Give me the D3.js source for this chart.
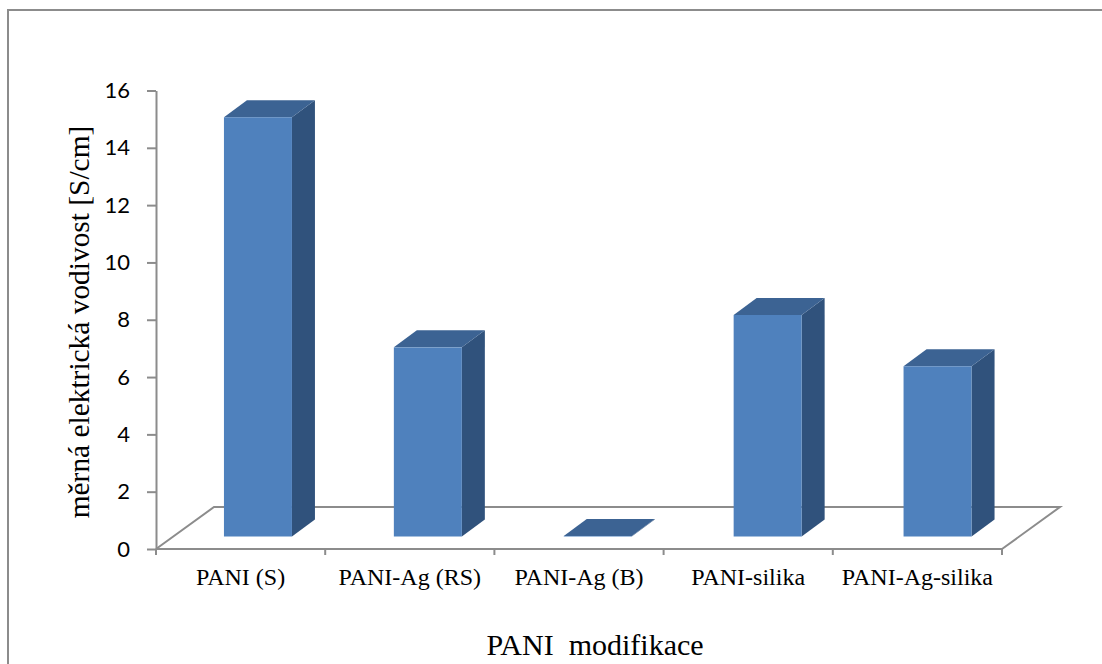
<!DOCTYPE html>
<html>
<head>
<meta charset="utf-8">
<script src="https://cdn.jsdelivr.net/npm/d3@7"></script>
<style>
  html, body { margin: 0; padding: 0; background: #fff; overflow: hidden; }
  svg { display: block; }
</style>
</head>
<body>
<svg id="chart" width="1102" height="664"></svg>
<script>
// Conductivity of PANI modifications, in S/cm
const categories = ["PANI (S)", "PANI-Ag (RS)", "PANI-Ag (B)", "PANI-silika", "PANI-Ag-silika"];
const conductivity = [14.63, 6.6, 0.02, 7.73, 5.94];
const yTicks = [0, 2, 4, 6, 8, 10, 12, 14, 16];

const svg = d3.select("#chart");
const grey = "#8c8c8c";

// Outer chart frame; its right and bottom edges run past the canvas
svg.append("rect")
  .attr("x", 8).attr("y", 10)
  .attr("width", 1110).attr("height", 670)
  .attr("fill", "#fff").attr("stroke", grey).attr("stroke-width", 2);

// Axis scales of the front plane
const x = d3.scaleBand().domain(categories).range([156, 1002]);
const y = d3.scaleLinear().domain([0, 16]).range([549, 90.5]);
const barWidth = 68;

// Bars sit on a slightly wider pitch than the axis ticks
const xBars = d3.scaleBand().domain(categories).range([155.5, 1005]);

// Oblique projection: floor depth and bar depth
const floorDx = 58, floorDy = -42;
const barDx = 23, barDy = -17;
const insetDx = (floorDx - barDx) / 2, insetDy = (floorDy - barDy) / 2;

// Floor outline
svg.append("path")
  .attr("d", d3.line()([
    [x.range()[0], y(0)],
    [x.range()[0] + floorDx, y(0) + floorDy],
    [x.range()[1] + floorDx, y(0) + floorDy],
    [x.range()[1], y(0)]
  ]))
  .attr("fill", "none").attr("stroke", grey).attr("stroke-width", 2);

// Bars as three visible faces
const bars = svg.append("g").selectAll("g")
  .data(categories.map((c, i) => ({ c, v: conductivity[i] })))
  .join("g");

const frontLeft = d => xBars(d.c) + (xBars.bandwidth() - barWidth) / 2 + insetDx;
const barBase = y(0) + insetDy;
const barTop = d => barBase - (y(0) - y(d.v));

bars.append("path").attr("fill", "#30527c")
  .attr("d", d => {
    const r = frontLeft(d) + barWidth;
    return d3.line()([[r, barBase], [r + barDx, barBase + barDy], [r + barDx, barTop(d) + barDy], [r, barTop(d)]]);
  });
bars.append("path").attr("fill", "#3c6393")
  .attr("d", d => {
    const l = frontLeft(d), r = l + barWidth;
    return d3.line()([[l, barTop(d)], [l + barDx, barTop(d) + barDy], [r + barDx, barTop(d) + barDy], [r, barTop(d)]]);
  });
bars.append("rect").attr("fill", "#4f81bd")
  .attr("x", frontLeft)
  .attr("y", barTop)
  .attr("width", barWidth)
  .attr("height", d => barBase - barTop(d));

// Vertical value axis
const yAxis = svg.append("g").attr("transform", `translate(${x.range()[0]},0)`)
  .call(d3.axisLeft(y).tickValues(yTicks).tickSize(9).tickSizeOuter(0).tickPadding(17).tickFormat(d3.format("d")));
yAxis.selectAll("path, line").attr("stroke", grey).attr("stroke-width", 2);
yAxis.selectAll("text")
  .attr("font-family", "Lato, 'Open Sans', sans-serif")
  .attr("font-size", 22).attr("fill", "#000");

// Front edge of the floor with category ticks
const xAxis = svg.append("g").attr("transform", `translate(0,${y(0)})`)
  .call(d3.axisBottom(x).tickSize(0).tickPadding(19));
xAxis.select("path").remove();
xAxis.selectAll("line").remove();
xAxis.selectAll("text")
  .attr("font-family", "'Liberation Serif', serif")
  .attr("font-size", 24).attr("fill", "#000");
svg.append("line")
  .attr("x1", x.range()[0]).attr("x2", x.range()[1])
  .attr("y1", y(0)).attr("y2", y(0))
  .attr("stroke", grey).attr("stroke-width", 2);
svg.append("g").selectAll("line")
  .data([...categories.map(c => x(c)), x.range()[1]])
  .join("line")
  .attr("x1", d => d).attr("x2", d => d)
  .attr("y1", y(0)).attr("y2", y(0) + 6)
  .attr("stroke", grey).attr("stroke-width", 2);

// Axis titles
svg.append("text")
  .attr("x", 595).attr("y", 655)
  .attr("text-anchor", "middle")
  .style("white-space", "pre")
  .attr("font-family", "'Liberation Serif', serif")
  .attr("font-size", 30).attr("fill", "#000")
  .text("PANI  modifikace");

svg.append("text")
  .attr("transform", "translate(89,322) rotate(-90)")
  .attr("text-anchor", "middle")
  .attr("font-family", "'Liberation Serif', serif")
  .attr("font-size", 29.4).attr("fill", "#000")
  .text("měrná elektrická vodivost [S/cm]");
</script>
</body>
</html>
